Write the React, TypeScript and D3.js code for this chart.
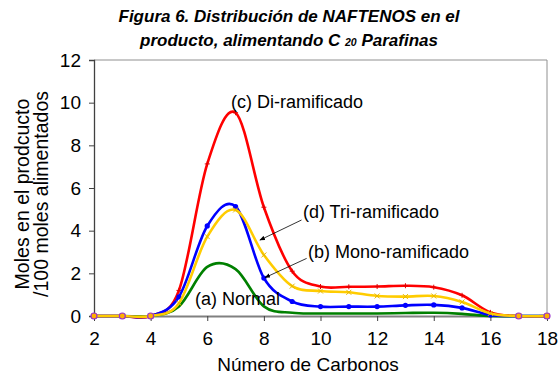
import React, { useRef, useEffect } from "react";
import * as d3 from "d3";

const carbons = [2, 3, 4, 5, 6, 7, 8, 9, 10, 11, 12, 13, 14, 15, 16, 17, 18];
const normal = [0, 0, 0, 0.45, 2.3, 2.2, 0.45, 0.15, 0.12, 0.12, 0.12, 0.14, 0.15, 0.1, 0, 0, 0];
const monoRamificado = [0, 0, 0, 0.9, 4.22, 5.13, 1.78, 0.68, 0.44, 0.44, 0.44, 0.5, 0.52, 0.38, 0.05, 0, 0];
const diRamificado = [0, 0, 0, 1.2, 7.13, 9.53, 5.1, 2.1, 1.38, 1.37, 1.38, 1.42, 1.35, 0.97, 0.17, 0, 0];
const triRamificado = [0, 0, 0, 0.6, 3.72, 4.97, 2.86, 1.4, 1.17, 1.11, 0.94, 0.91, 0.94, 0.66, 0.12, 0, 0];
const endPoints = [2, 3, 4, 17, 18];

const xTicks = [2, 4, 6, 8, 10, 12, 14, 16, 18];
const yTicks = [0, 2, 4, 6, 8, 10, 12];

const series = [
  { name: "normal", values: normal, color: "#008000", marker: "none" },
  { name: "di", values: diRamificado, color: "#FF0000", marker: "plus" },
  { name: "mono", values: monoRamificado, color: "#0000FF", marker: "dot" },
  { name: "tri", values: triRamificado, color: "#FFCC00", marker: "cross" },
];

// label anchor = left end of the baseline, in data units
const labels = [
  { text: "(c) Di-ramificado", x: 6.84, y: 9.75 },
  { text: "(d) Tri-ramificado", x: 9.38, y: 4.59 },
  { text: "(b) Mono-ramificado", x: 9.56, y: 2.72 },
  { text: "(a) Normal", x: 5.57, y: 0.52 },
];

const arrows = [
  { from: [9.33, 4.5], to: [7.86, 3.56] },
  { from: [9.51, 2.7], to: [8.04, 1.8] },
];

const W = 559;
const H = 377;
const margin = { top: 60, right: 12, bottom: 61, left: 94 };
const font = "'Liberation Sans', Arial, sans-serif";

const App = () => {
  const svgRef = useRef<SVGSVGElement>(null);

  useEffect(() => {
    const svg = d3.select(svgRef.current);
    svg.selectAll("*").remove();

    const x = d3.scaleLinear().domain([2, 18]).range([margin.left, W - margin.right]);
    const y = d3.scaleLinear().domain([0, 12]).range([H - margin.bottom, margin.top]);

    svg.append("rect").attr("width", W).attr("height", H).attr("fill", "white");

    // frame (top and right)
    svg.append("path")
      .attr("d", `M${x(2)},${y(12)}H${x(18)}V${y(0)}`)
      .attr("fill", "none")
      .attr("stroke", "#909090")
      .attr("stroke-width", 1);

    // title
    const title = svg.append("text")
      .attr("text-anchor", "middle")
      .attr("font-family", font)
      .attr("font-weight", "bold")
      .attr("font-style", "italic")
      .attr("font-size", 17)
      .attr("fill", "#000");
    title.append("tspan").attr("x", 289).attr("y", 22).text("Figura 6. Distribución de NAFTENOS en el");
    const l2 = title.append("tspan").attr("x", 289).attr("y", 46);
    l2.append("tspan").text("producto, alimentando C ");
    l2.append("tspan").attr("font-size", 10.5).text("20");
    l2.append("tspan").text(" Parafinas");

    // y axis
    const yAxis = svg.append("g")
      .attr("transform", `translate(${margin.left},0)`)
      .call(d3.axisLeft(y).tickValues(yTicks).tickSize(5).tickPadding(8));
    yAxis.select(".domain").attr("stroke", "#404040").attr("stroke-width", 1.3);
    yAxis.selectAll(".tick line").attr("stroke", "#404040");
    yAxis.selectAll("text").attr("font-family", font).attr("font-size", 19).attr("fill", "#000");

    // x axis
    const xAxis = svg.append("g")
      .attr("transform", `translate(0,${y(0)})`)
      .call(d3.axisBottom(x).tickValues(xTicks).tickSize(5).tickPadding(11).tickSizeOuter(0));
    xAxis.select(".domain").attr("stroke", "#808080").attr("stroke-width", 2);
    xAxis.selectAll(".tick line").attr("stroke", "#404040");
    xAxis.selectAll("text").attr("font-family", font).attr("font-size", 19).attr("fill", "#000");

    svg.append("text")
      .attr("x", 308).attr("y", 371)
      .attr("text-anchor", "middle")
      .attr("font-family", font).attr("font-size", 19)
      .text("Número de Carbonos");

    const yl = svg.append("text")
      .attr("transform", `translate(29,194) rotate(-90)`)
      .attr("text-anchor", "middle")
      .attr("font-family", font).attr("font-size", 19.5);
    yl.append("tspan").attr("x", 0).attr("y", 0).text("Moles en el prodcucto");
    yl.append("tspan").attr("x", 0).attr("y", 19).text("/100 moles alimentados");

    const line = d3.line<number>()
      .x((_, i) => x(carbons[i]))
      .y(d => y(d))
      .curve(d3.curveCatmullRom.alpha(0));

    series.forEach(s => {
      svg.append("path")
        .attr("d", line(s.values))
        .attr("fill", "none")
        .attr("stroke", s.color)
        .attr("stroke-width", 2.6);

      const g = svg.append("g");
      s.values.forEach((v, i) => {
        const cx = x(carbons[i]);
        const cy = y(v);
        if (s.marker === "dot") {
          g.append("circle").attr("cx", cx).attr("cy", cy).attr("r", 2.6).attr("fill", s.color);
        } else if (s.marker === "plus") {
          g.append("path")
            .attr("d", `M${cx - 2.5},${cy}H${cx + 2.5}M${cx},${cy - 2.5}V${cy + 2.5}`)
            .attr("stroke", "#E00000").attr("stroke-width", 1);
        } else if (s.marker === "cross") {
          g.append("path")
            .attr("d", `M${cx - 2.5},${cy - 2.5}L${cx + 2.5},${cy + 2.5}M${cx - 2.5},${cy + 2.5}L${cx + 2.5},${cy - 2.5}`)
            .attr("stroke", "#E6B800").attr("stroke-width", 1);
        }
      });
    });

    // end markers where all series sit on zero
    endPoints.forEach(c => {
      svg.append("circle")
        .attr("cx", x(c)).attr("cy", y(0)).attr("r", 3)
        .attr("fill", "#FFB000")
        .attr("stroke", "#9933CC")
        .attr("stroke-width", 1.2);
    });

    // series labels
    labels.forEach(l => {
      svg.append("text")
        .attr("x", x(l.x)).attr("y", y(l.y))
        .attr("font-family", font).attr("font-size", 18)
        .attr("fill", "#000")
        .text(l.text);
    });

    svg.append("defs").append("marker")
      .attr("id", "ah")
      .attr("viewBox", "0 0 10 10")
      .attr("refX", 9).attr("refY", 5)
      .attr("markerWidth", 7).attr("markerHeight", 7)
      .attr("orient", "auto")
      .append("path").attr("d", "M0,1L10,5L0,9z").attr("fill", "#000");

    arrows.forEach(a => {
      svg.append("line")
        .attr("x1", x(a.from[0])).attr("y1", y(a.from[1]))
        .attr("x2", x(a.to[0])).attr("y2", y(a.to[1]))
        .attr("stroke", "#000").attr("stroke-width", 0.8)
        .attr("marker-end", "url(#ah)");
    });
  }, []);

  return (
    <div style={{ position: "absolute", top: 0, left: 0, width: W, height: H, overflow: "hidden" }}>
      <svg ref={svgRef} width={W} height={H} style={{ display: "block" }} />
    </div>
  );
};

export default App;
